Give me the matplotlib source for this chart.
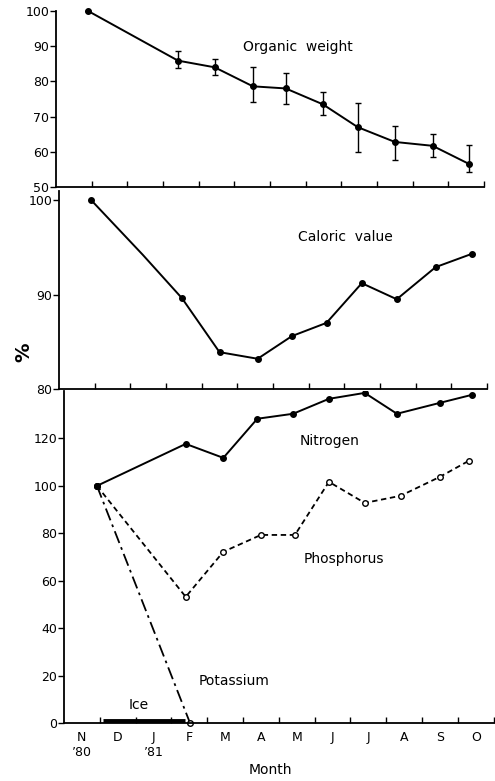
import matplotlib
matplotlib.use("Agg")
import matplotlib.pyplot as plt
import numpy as np

plt.rcParams['font.family'] = ['DejaVu Sans']
plt.rcParams['font.size'] = 9

# ---------------- data ----------------
# x = months since 1 Nov 1980
ow_x = [0.9, 3.42, 4.45, 5.52, 6.44, 7.48, 8.46, 9.5, 10.56, 11.57]
ow_y = [100, 85.9, 84.0, 78.6, 78.0, 73.5, 67.0, 62.8, 61.7, 56.6]
ow_hi = [100, 88.5, 86.5, 84.0, 82.5, 76.9, 73.8, 67.3, 65.1, 62.0]
ow_lo = [100, 83.7, 81.7, 74.1, 73.5, 70.4, 60.0, 57.7, 58.6, 54.4]

cal_x = [0.9, 2.35, 3.45, 4.5, 5.57, 6.53, 7.5, 8.49, 9.47, 10.56, 11.57]
cal_y = [100.0, 94.2, 89.6, 83.9, 83.2, 85.6, 87.0, 91.2, 89.5, 92.9, 94.3]

n_x = [0.92, 3.4, 4.45, 5.4, 6.4, 7.4, 8.4, 9.3, 10.5, 11.4]
n_y = [100, 117.7, 111.8, 128.3, 130.4, 136.7, 139.2, 130.4, 135.0, 138.4]

p_x = [0.92, 3.4, 4.45, 5.5, 6.45, 7.4, 8.4, 9.4, 10.5, 11.3]
p_y = [100, 53.2, 72.2, 79.3, 79.3, 101.7, 92.8, 95.8, 103.8, 110.5]

k_x = [0.92, 3.52]
k_y = [100, 0]

ice_start, ice_end = 1.09, 3.38

month_labels = ["N\n’80", "D", "J\n’81", "F", "M", "A", "M", "J", "J", "A", "S", "O"]
ow_ticks = [50, 60, 70, 80, 90, 100]
cal_ticks = [80, 90, 100]
nut_ticks = [0, 20, 40, 60, 80, 100, 120]

W, H = 495, 781
fig = plt.figure(figsize=(W / 100, H / 100), dpi=100)


def rect(left, right, bottom, top):
    return [left / W, 1 - bottom / H, (right - left) / W, (bottom - top) / H]


def style(ax):
    for s in ("top", "right"):
        ax.spines[s].set_visible(False)
    for s in ("left", "bottom"):
        ax.spines[s].set_linewidth(1.3)
    ax.set_xlim(0, 12)
    ax.set_xticks(np.arange(1, 13))
    ax.tick_params(axis='x', direction='in', length=4, width=1.0, labelbottom=False)
    ax.tick_params(axis='y', direction='out', length=4, width=1.0, pad=1)
    ax.patch.set_visible(False)


lw = 1.4
ann = 10
# ---------- top: organic weight ----------
ax1 = fig.add_axes(rect(56, 484, 187, 11))
style(ax1)
ax1.set_ylim(50, 100)
ax1.set_yticks(ow_ticks)
yerr = [np.array(ow_y) - np.array(ow_lo), np.array(ow_hi) - np.array(ow_y)]
ax1.errorbar(ow_x, ow_y, yerr=yerr, color='black', lw=lw, marker='o', ms=4,
             capsize=2.5, elinewidth=1.0, capthick=1.0, clip_on=False)
ax1.text(6.78, 89.8, "Organic  weight", ha='center', va='center', fontsize=ann)

# ---------- middle: caloric value ----------
ax2 = fig.add_axes(rect(59, 487, 389, 190.6))
style(ax2)
ax2.set_ylim(80, 101)
ax2.set_yticks(cal_ticks)
ax2.plot(cal_x, cal_y, color='black', lw=lw, marker='o', ms=4,
         markevery=[0, 2, 3, 4, 5, 6, 7, 8, 9, 10], clip_on=False)
ax2.text(8.04, 96.1, "Caloric  value", ha='center', va='center', fontsize=ann)

# ---------- bottom: nutrients ----------
ax3 = fig.add_axes(rect(64, 493.6, 723, 391))
style(ax3)
ax3.set_ylim(0, 140)
ax3.set_yticks(nut_ticks)
ax3.set_xticks(np.arange(0.5, 12, 1), minor=True)
ax3.set_xticklabels(month_labels, minor=True)
ax3.tick_params(axis='x', which='minor', length=0, labelbottom=True, pad=6)
ax3.plot(k_x, k_y, color='black', lw=1.3, dashes=(7, 2.5, 1.5, 2.5),
         marker='o', ms=4, mfc='white', clip_on=False, zorder=2)
ax3.plot(p_x, p_y, color='black', lw=1.3, ls=(0, (3, 2)),
         marker='o', ms=4, mfc='white', zorder=3)
ax3.plot(n_x, n_y, color='black', lw=lw, marker='o', ms=4, zorder=4)
ax3.hlines(0.9, ice_start, ice_end, color='black', lw=3.5, zorder=5)
ax3.text(2.1, 7.6, "Ice", ha='center', va='center', fontsize=ann)
ax3.text(7.43, 119, "Nitrogen", ha='center', va='center', fontsize=ann)
ax3.text(7.82, 69.2, "Phosphorus", ha='center', va='center', fontsize=ann)
ax3.text(4.75, 17.7, "Potassium", ha='center', va='center', fontsize=ann)

fig.text(270 / W, 1 - 770 / H, "Month", ha='center', va='center', fontsize=ann)
fig.text(24 / W, 1 - 352 / H, "%", ha='center', va='center', fontsize=14,
         rotation=90, fontweight='bold')

fig.savefig("out.png", dpi=100)
